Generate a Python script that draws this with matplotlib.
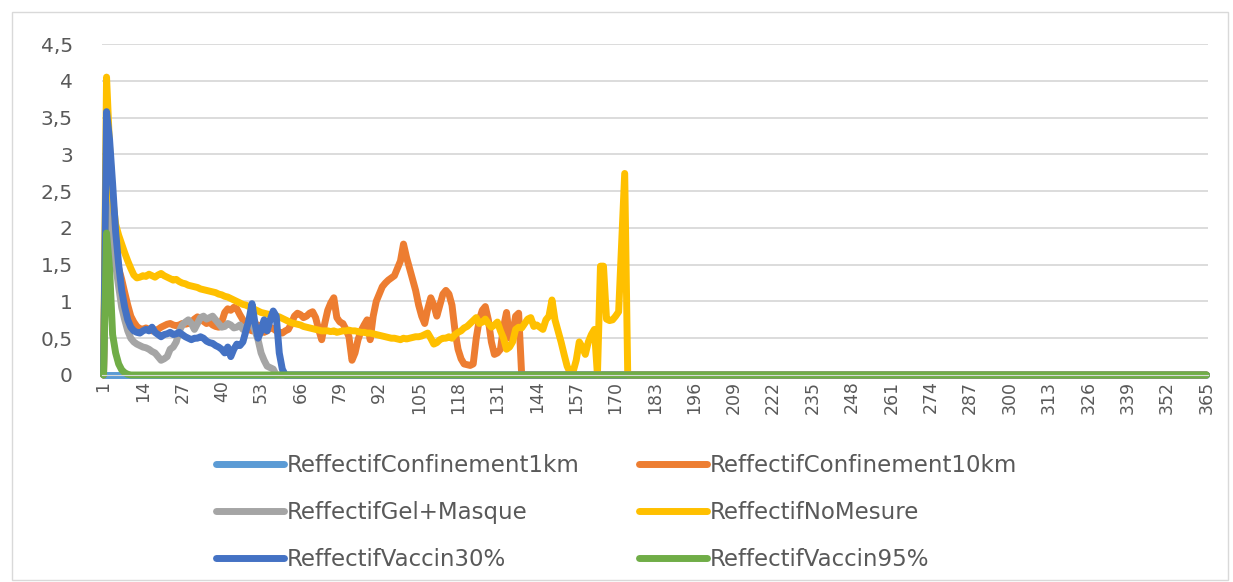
import matplotlib
matplotlib.use("Agg")
import matplotlib.pyplot as plt
from matplotlib.patches import Rectangle

# ---------------- data ----------------
N_DAYS = 365
days = list(range(1, N_DAYS + 1))

series_names = [
    "ReffectifConfinement1km",
    "ReffectifConfinement10km",
    "ReffectifGel+Masque",
    "ReffectifNoMesure",
    "ReffectifVaccin30%",
    "ReffectifVaccin95%",
]
series_colors = ["#5B9BD5", "#ED7D31", "#A5A5A5", "#FFC000", "#4472C4", "#70AD47"]

# Values (day 1 onward); after the listed days every series sits at 0
conf1km_vals = [0.0]

conf10km_vals = [
    0, 3.2, 2.5, 2.0, 1.7, 1.45, 1.3, 1.12, 0.95, 0.8, 0.72, 0.66,
    0.63, 0.62, 0.64, 0.62, 0.6, 0.61, 0.62, 0.65, 0.67, 0.69,
    0.7, 0.68, 0.67, 0.68, 0.7, 0.69, 0.7, 0.72, 0.76, 0.79,
    0.77, 0.73, 0.7, 0.72, 0.68, 0.66, 0.65, 0.72, 0.85, 0.9,
    0.88, 0.92, 0.9, 0.82, 0.75, 0.68, 0.62, 0.6, 0.65, 0.68,
    0.62, 0.58, 0.6, 0.65, 0.63, 0.6, 0.58, 0.57, 0.6, 0.62,
    0.7, 0.8, 0.84, 0.82, 0.78, 0.8, 0.84, 0.86, 0.78, 0.62,
    0.48, 0.7, 0.88, 0.98, 1.05, 0.78, 0.72, 0.7, 0.62, 0.52,
    0.2, 0.3, 0.48, 0.6, 0.68, 0.75, 0.48, 0.8, 1.0, 1.1,
    1.2, 1.25, 1.29, 1.32, 1.35, 1.45, 1.55, 1.78, 1.6, 1.45,
    1.3, 1.15, 0.95, 0.8, 0.7, 0.9, 1.05, 0.95, 0.8, 0.95,
    1.1, 1.15, 1.1, 0.95, 0.6, 0.35, 0.22, 0.15, 0.14, 0.13,
    0.15, 0.5, 0.75, 0.88, 0.93, 0.75, 0.45, 0.28, 0.3, 0.35,
    0.65, 0.85, 0.5, 0.55, 0.8, 0.84, 0.0,
]

gel_masque_vals = [
    0, 3.0, 2.4, 1.9, 1.5, 1.2, 0.92, 0.75, 0.6, 0.5, 0.45, 0.42,
    0.4, 0.38, 0.37, 0.35, 0.32, 0.3, 0.25, 0.2, 0.22, 0.25,
    0.35, 0.38, 0.45, 0.6, 0.68, 0.72, 0.75, 0.7, 0.62, 0.7,
    0.78, 0.8, 0.76, 0.78, 0.8, 0.75, 0.7, 0.65, 0.66, 0.7,
    0.68, 0.64, 0.65, 0.68, 0.62, 0.66, 0.68, 0.7, 0.6, 0.48,
    0.3, 0.2, 0.12, 0.1, 0.08, 0.0,
]

no_mesure_vals = [
    0, 4.05, 3.1, 2.4, 2.05, 1.9, 1.78, 1.66, 1.55, 1.45, 1.36, 1.32,
    1.33, 1.35, 1.34, 1.37, 1.35, 1.33, 1.36, 1.38, 1.35, 1.33,
    1.31, 1.29, 1.3, 1.27, 1.25, 1.24, 1.22, 1.21, 1.2, 1.19, 1.17, 1.16, 1.15,
    1.14, 1.13, 1.12, 1.1, 1.09, 1.07, 1.06, 1.04, 1.02, 1.0,
    0.98, 0.96, 0.95, 0.93, 0.91, 0.89, 0.87, 0.85, 0.84, 0.83,
    0.82, 0.81, 0.8, 0.79, 0.77, 0.75, 0.73, 0.71, 0.7, 0.69,
    0.68, 0.66, 0.65, 0.64, 0.63, 0.62, 0.61, 0.6, 0.6, 0.6,
    0.59, 0.6, 0.58, 0.59, 0.6, 0.6, 0.61, 0.6, 0.6, 0.59,
    0.58, 0.58, 0.57, 0.57, 0.56, 0.55, 0.54, 0.53, 0.52, 0.51,
    0.5, 0.5, 0.49, 0.48, 0.5, 0.49, 0.5, 0.51, 0.52,
    0.52, 0.53, 0.55, 0.57, 0.5, 0.42, 0.44, 0.48, 0.5, 0.5,
    0.52, 0.5, 0.55, 0.58, 0.6, 0.64, 0.66, 0.7, 0.74, 0.78,
    0.7, 0.72, 0.76, 0.7, 0.65, 0.68, 0.72, 0.6, 0.5, 0.35,
    0.38, 0.45, 0.62, 0.65, 0.64, 0.7, 0.76, 0.78, 0.66, 0.68,
    0.65, 0.62, 0.75, 0.8, 1.02, 0.75, 0.6, 0.45, 0.28, 0.12,
    0.03, 0.05, 0.2, 0.45, 0.38, 0.28, 0.45, 0.55, 0.62, 0.0,
    1.48, 1.48, 0.76, 0.74, 0.75, 0.8, 0.86, 1.8, 2.74, 0.0,
]

vaccin30_vals = [
    0, 3.58, 3.2, 2.6, 1.95, 1.5, 1.15, 0.92, 0.75, 0.65, 0.6, 0.58,
    0.57, 0.6, 0.62, 0.6, 0.65, 0.58, 0.55, 0.52, 0.55, 0.56,
    0.58, 0.55, 0.56, 0.58, 0.55, 0.52, 0.5, 0.48, 0.5, 0.5,
    0.52, 0.5, 0.46, 0.44, 0.43, 0.4, 0.38, 0.35, 0.3, 0.38,
    0.25, 0.35, 0.42, 0.4, 0.45, 0.6, 0.75, 0.97, 0.7, 0.5,
    0.6, 0.75, 0.6, 0.75, 0.87, 0.8, 0.3, 0.08, 0.0,
]

vaccin95_vals = [0, 1.93, 1.45, 0.55, 0.3, 0.15, 0.07, 0.03, 0.01, 0.0]

xtick_labels = [str(d) for d in range(1, N_DAYS + 1, 13)]
ytick_values = [0, 0.5, 1, 1.5, 2, 2.5, 3, 3.5, 4, 4.5]
ytick_labels = ["0", "0,5", "1", "1,5", "2", "2,5", "3", "3,5", "4", "4,5"]


def full_year(vals):
    return list(vals) + [0.0] * (N_DAYS - len(vals))


series_values = [
    full_year(conf1km_vals),
    full_year(conf10km_vals),
    full_year(gel_masque_vals),
    full_year(no_mesure_vals),
    full_year(vaccin30_vals),
    full_year(vaccin95_vals),
]

# ---------------- figure ----------------
W, H = 1233, 582
TEXT = "#595959"
GRID = "#D9D9D9"

fig = plt.figure(figsize=(W / 100, H / 100), dpi=100)
fig.patch.set_facecolor("white")

# chart-area border
fig.add_artist(Rectangle((12 / W, 2 / H), 1216 / W, 568 / H,
                         transform=fig.transFigure, fill=False,
                         edgecolor=GRID, linewidth=1.0))

ax = fig.add_axes([102 / W, 1 - 375 / H, 1106 / W, 331 / H])
ax.set_xlim(0.5, N_DAYS + 0.5)
ax.set_ylim(0, 4.5)

ax.set_yticks(ytick_values)
ax.set_yticklabels(ytick_labels, fontsize=14.5, color=TEXT)
ax.yaxis.grid(True, color=GRID, linewidth=1.3)
ax.set_axisbelow(True)
ax.tick_params(axis="y", length=0, pad=21)

xtick_pos = [int(s) for s in xtick_labels]
ax.set_xticks(xtick_pos)
ax.set_xticklabels(xtick_labels, rotation=90, fontsize=12.5, color=TEXT)
ax.tick_params(axis="x", length=0, pad=4)

for side in ("top", "right", "left"):
    ax.spines[side].set_visible(False)
ax.spines["bottom"].set_color(GRID)

lines = []
for name, col, vals in zip(series_names, series_colors, series_values):
    ln, = ax.plot(days, vals, color=col, linewidth=5, label=name,
                  solid_joinstyle="round", solid_capstyle="round", clip_on=False)
    lines.append(ln)

leg_kw = dict(frameon=False, fontsize=16.5, labelcolor=TEXT, borderpad=0,
              borderaxespad=0, handlelength=2.95, handletextpad=0.15,
              labelspacing=1.05, loc="upper left")
left_idx = [0, 2, 4]
right_idx = [1, 3, 5]
leg1 = fig.legend([lines[i] for i in left_idx], [series_names[i] for i in left_idx],
                  bbox_to_anchor=(216 / W, 1 - 454 / H), **leg_kw)
leg2 = fig.legend([lines[i] for i in right_idx], [series_names[i] for i in right_idx],
                  bbox_to_anchor=(639 / W, 1 - 454 / H), **leg_kw)

fig.savefig("out.png", dpi=100, facecolor="white")
